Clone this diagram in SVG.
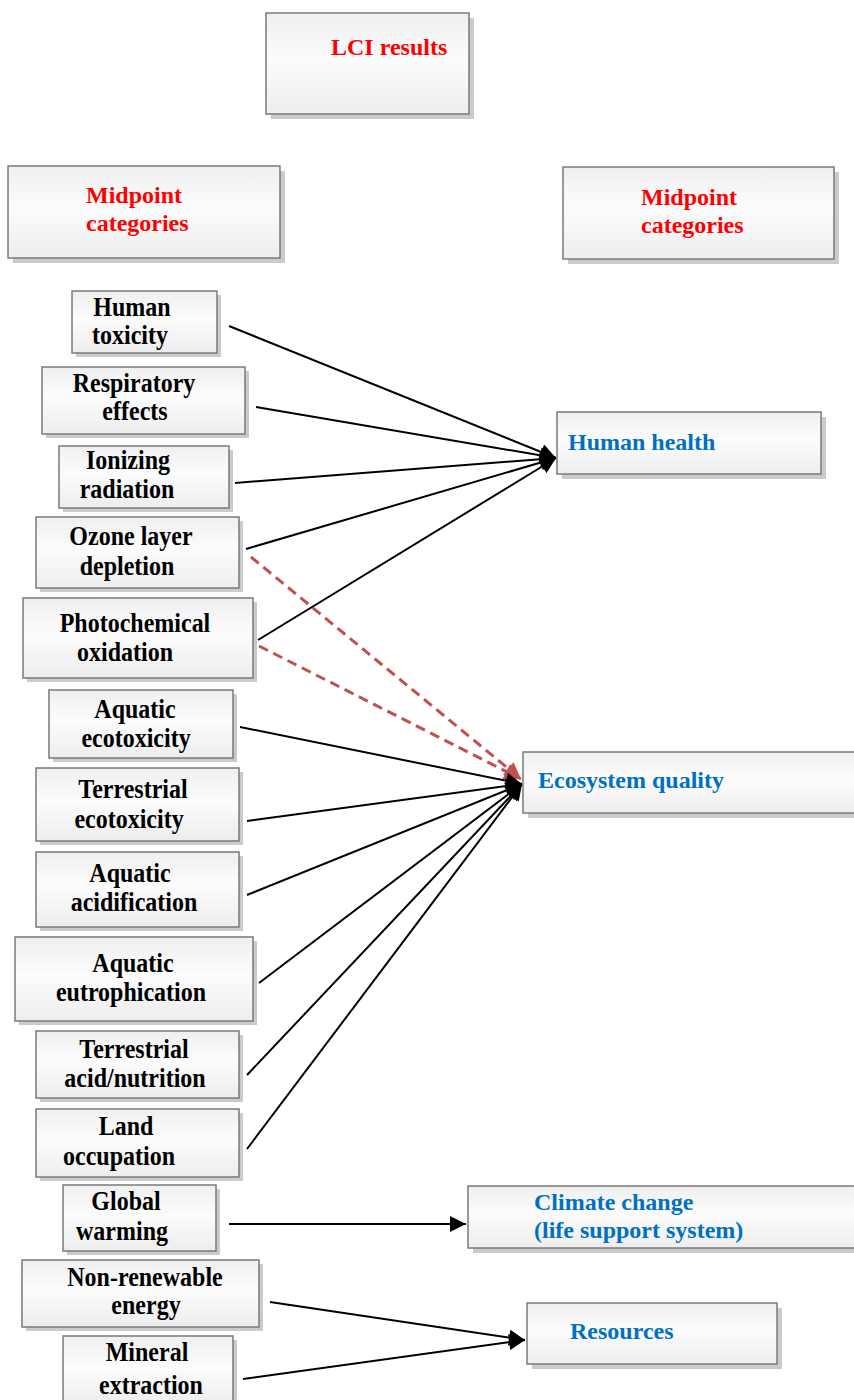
<svg xmlns="http://www.w3.org/2000/svg" width="854" height="1400" viewBox="0 0 854 1400">
<defs>
<linearGradient id="g" x1="0" y1="0" x2="0" y2="1">
<stop offset="0" stop-color="#efefef"/>
<stop offset="0.45" stop-color="#fcfcfc"/>
<stop offset="1" stop-color="#ededed"/>
</linearGradient>
<marker id="ah" viewBox="0 0 10 10" refX="10" refY="5" markerWidth="9" markerHeight="8" orient="auto" markerUnits="strokeWidth">
<path d="M0,0 L10,5 L0,10 z" fill="#000"/>
</marker>
<marker id="ahr" viewBox="0 0 10 10" refX="10" refY="5" markerWidth="6.5" markerHeight="5.5" orient="auto" markerUnits="strokeWidth">
<path d="M0,0 L10,5 L0,10 z" fill="#C0504D"/>
</marker>
</defs>
<style>
.sh{fill:#cbcbcb}
.bx{fill:url(#g);stroke:#7a7a7a;stroke-width:1.5}
.t{font-family:"Liberation Serif","Times New Roman",serif;font-weight:bold}
.red{fill:#ff0000;font-size:24px}
.blue{fill:#0070C0;font-size:24px}
.blk{fill:#000;font-size:24px;text-anchor:middle}
.c{stroke:#000;stroke-width:2;fill:none;marker-end:url(#ah)}
.d{stroke:#C0504D;stroke-width:3;fill:none;stroke-dasharray:10,6;marker-end:url(#ahr)}
</style>
<rect width="854" height="1400" fill="#fff"/>

<g id="connectors">
<line class="c" x1="229" y1="326" x2="556" y2="458"/>
<line class="c" x1="256" y1="407" x2="556" y2="458"/>
<line class="c" x1="235" y1="483" x2="556" y2="458"/>
<line class="c" x1="246" y1="549" x2="556" y2="458"/>
<line class="c" x1="258" y1="640" x2="556" y2="458"/>
<line class="d" x1="251" y1="557" x2="521" y2="779"/>
<line class="d" x1="259" y1="646" x2="521" y2="779"/>
<line class="c" x1="240" y1="727" x2="522" y2="784"/>
<line class="c" x1="247" y1="821" x2="522" y2="784"/>
<line class="c" x1="247" y1="895" x2="522" y2="784"/>
<line class="c" x1="259" y1="983" x2="522" y2="784"/>
<line class="c" x1="247" y1="1075" x2="522" y2="784"/>
<line class="c" x1="247" y1="1149" x2="522" y2="784"/>
<line class="c" x1="229" y1="1224" x2="466" y2="1224"/>
<line class="c" x1="270" y1="1302" x2="525" y2="1340"/>
<line class="c" x1="243" y1="1379" x2="525" y2="1340"/>
</g>

<g id="lci">
<rect class="sh" x="271" y="18" width="203" height="101"/>
<rect class="bx" x="266" y="13" width="203" height="101"/>
<text class="t red" x="331" y="55">LCI results</text>
</g>
<g id="midpoint-left">
<rect class="sh" x="13" y="171" width="272" height="92"/>
<rect class="bx" x="8" y="166" width="272" height="92"/>
<text class="t red" x="86" y="203">Midpoint</text>
<text class="t red" x="86" y="231">categories</text>
</g>
<g id="midpoint-right">
<rect class="sh" x="568" y="172" width="271" height="92"/>
<rect class="bx" x="563" y="167" width="271" height="92"/>
<text class="t red" x="641" y="205">Midpoint</text>
<text class="t red" x="641" y="233">categories</text>
</g>

<g id="human-toxicity">
<rect class="sh" x="76" y="295" width="145" height="62"/>
<rect class="bx" x="72" y="291" width="145" height="62"/>
<text class="t blk" transform="translate(132,316) scale(1,1.1)">Human</text>
<text class="t blk" transform="translate(130,344) scale(1,1.1)">toxicity</text>
</g>
<g id="respiratory-effects">
<rect class="sh" x="46" y="371" width="203" height="67"/>
<rect class="bx" x="42" y="367" width="203" height="67"/>
<text class="t blk" transform="translate(134,392) scale(1,1.1)">Respiratory</text>
<text class="t blk" transform="translate(135,420) scale(1,1.1)">effects</text>
</g>
<g id="ionizing-radiation">
<rect class="sh" x="63" y="450" width="170" height="62"/>
<rect class="bx" x="59" y="446" width="170" height="62"/>
<text class="t blk" transform="translate(128,469) scale(1,1.1)">Ionizing</text>
<text class="t blk" transform="translate(127,498) scale(1,1.1)">radiation</text>
</g>
<g id="ozone-layer-depletion">
<rect class="sh" x="40" y="521" width="203" height="71"/>
<rect class="bx" x="36" y="517" width="203" height="71"/>
<text class="t blk" transform="translate(131,545) scale(1,1.1)">Ozone layer</text>
<text class="t blk" transform="translate(127,575) scale(1,1.1)">depletion</text>
</g>
<g id="photochemical-oxidation">
<rect class="sh" x="27" y="602" width="230" height="80"/>
<rect class="bx" x="23" y="598" width="230" height="80"/>
<text class="t blk" transform="translate(135,632) scale(1,1.1)">Photochemical</text>
<text class="t blk" transform="translate(125,661) scale(1,1.1)">oxidation</text>
</g>
<g id="aquatic-ecotoxicity">
<rect class="sh" x="53" y="694" width="184" height="68"/>
<rect class="bx" x="49" y="690" width="184" height="68"/>
<text class="t blk" transform="translate(135,718) scale(1,1.1)">Aquatic</text>
<text class="t blk" transform="translate(136,747) scale(1,1.1)">ecotoxicity</text>
</g>
<g id="terrestrial-ecotoxicity">
<rect class="sh" x="40" y="772" width="203" height="73"/>
<rect class="bx" x="36" y="768" width="203" height="73"/>
<text class="t blk" transform="translate(133,798) scale(1,1.1)">Terrestrial</text>
<text class="t blk" transform="translate(129,828) scale(1,1.1)">ecotoxicity</text>
</g>
<g id="aquatic-acidification">
<rect class="sh" x="40" y="856" width="203" height="75"/>
<rect class="bx" x="36" y="852" width="203" height="75"/>
<text class="t blk" transform="translate(130,882) scale(1,1.1)">Aquatic</text>
<text class="t blk" transform="translate(134,911) scale(1,1.1)">acidification</text>
</g>
<g id="aquatic-eutrophication">
<rect class="sh" x="19" y="941" width="238" height="84"/>
<rect class="bx" x="15" y="937" width="238" height="84"/>
<text class="t blk" transform="translate(133,972) scale(1,1.1)">Aquatic</text>
<text class="t blk" transform="translate(131,1001) scale(1,1.1)">eutrophication</text>
</g>
<g id="terrestrial-acid-nutrition">
<rect class="sh" x="40" y="1035" width="203" height="67"/>
<rect class="bx" x="36" y="1031" width="203" height="67"/>
<text class="t blk" transform="translate(134,1058) scale(1,1.1)">Terrestrial</text>
<text class="t blk" transform="translate(135,1087) scale(1,1.1)">acid/nutrition</text>
</g>
<g id="land-occupation">
<rect class="sh" x="40" y="1113" width="203" height="68"/>
<rect class="bx" x="36" y="1109" width="203" height="68"/>
<text class="t blk" transform="translate(126,1135) scale(1,1.1)">Land</text>
<text class="t blk" transform="translate(119,1165) scale(1,1.1)">occupation</text>
</g>
<g id="global-warming">
<rect class="sh" x="67" y="1189" width="153" height="66"/>
<rect class="bx" x="63" y="1185" width="153" height="66"/>
<text class="t blk" transform="translate(126,1210) scale(1,1.1)">Global</text>
<text class="t blk" transform="translate(122,1240) scale(1,1.1)">warming</text>
</g>
<g id="non-renewable-energy">
<rect class="sh" x="26" y="1264" width="237" height="67"/>
<rect class="bx" x="22" y="1260" width="237" height="67"/>
<text class="t blk" transform="translate(145,1286) scale(1,1.1)">Non-renewable</text>
<text class="t blk" transform="translate(146,1314) scale(1,1.1)">energy</text>
</g>
<g id="mineral-extraction">
<rect class="sh" x="67" y="1340" width="170" height="70"/>
<rect class="bx" x="63" y="1336" width="170" height="70"/>
<text class="t blk" transform="translate(147,1361) scale(1,1.1)">Mineral</text>
<text class="t blk" transform="translate(151,1394) scale(1,1.1)">extraction</text>
</g>

<g id="human-health">
<rect class="sh" x="562" y="417" width="264" height="62"/>
<rect class="bx" x="557" y="412" width="264" height="62"/>
<text class="t blue" x="568" y="450">Human health</text>
</g>
<g id="ecosystem-quality">
<rect class="sh" x="528" y="757" width="340" height="61"/>
<rect class="bx" x="523" y="752" width="340" height="61"/>
<text class="t blue" x="538" y="788">Ecosystem quality</text>
</g>
<g id="climate-change">
<rect class="sh" x="473" y="1191" width="400" height="62"/>
<rect class="bx" x="468" y="1186" width="400" height="62"/>
<text class="t blue" x="534" y="1210">Climate change</text>
<text class="t blue" x="534" y="1238">(life support system)</text>
</g>
<g id="resources">
<rect class="sh" x="532" y="1308" width="250" height="61"/>
<rect class="bx" x="527" y="1303" width="250" height="61"/>
<text class="t blue" x="570" y="1339">Resources</text>
</g>
</svg>
